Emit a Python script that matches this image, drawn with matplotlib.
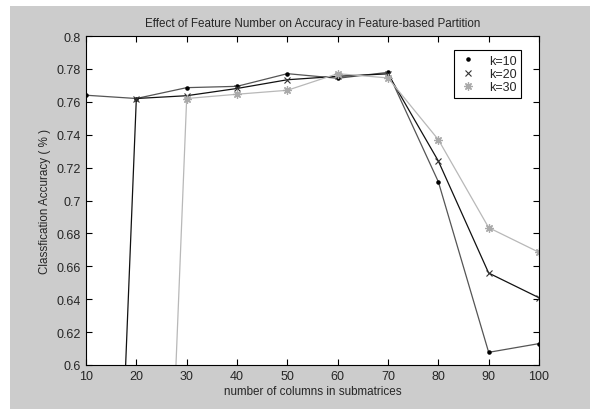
import matplotlib
matplotlib.use("Agg")
import matplotlib.pyplot as plt
from matplotlib.patches import Rectangle

x = [10, 20, 30, 40, 50, 60, 70, 80, 90, 100]
k10 = [0.764, 0.762, 0.7686, 0.7694, 0.7771, 0.7743, 0.7779, 0.7114, 0.6077, 0.6130]
k20 = [0.0, 0.762, 0.7637, 0.7681, 0.7734, 0.7755, 0.7770, 0.7240, 0.6559, 0.6409]
k30 = [0.0, 0.0, 0.762, 0.7646, 0.7670, 0.7771, 0.7745, 0.7370, 0.6835, 0.6685]
labels = ["k=10", "k=20", "k=30"]
xticks = [10, 20, 30, 40, 50, 60, 70, 80, 90, 100]
yticks = [0.6, 0.62, 0.64, 0.66, 0.68, 0.7, 0.72, 0.74, 0.76, 0.78, 0.8]
ytick_labels = ["0.6", "0.62", "0.64", "0.66", "0.68", "0.7", "0.72", "0.74", "0.76", "0.78", "0.8"]

plt.rcParams['font.family'] = ['Liberation Sans', 'DejaVu Sans']
plt.rcParams['font.size'] = 8

txt = '#262626'
fig = plt.figure(figsize=(5.9, 4.1), dpi=100)
fig.patch.set_facecolor('white')
fig.patches.append(Rectangle((10 / 590, 0), 580 / 590, 403 / 410, transform=fig.transFigure,
                             facecolor='#cccccc', edgecolor='none', zorder=-10))

ax = fig.add_axes([86 / 590, 1 - 366 / 410, (539 - 86) / 590, (366 - 37) / 410])
ax.set_facecolor('white')

ax.plot(x, k10, color='#555555', lw=0.9, marker='.', ms=4.5, mfc='black', mec='black', label=labels[0])
ax.plot(x, k20, color='#111111', lw=0.9, marker='x', ms=4, mfc='#333333', mec='#333333', mew=0.8, label=labels[1])
ax.plot(x, k30, color='#b8b8b8', lw=0.9, marker=(8, 2, 0), ms=6, mfc='#aaaaaa', mec='#aaaaaa', mew=0.9, label=labels[2])

ax.set_xlim(10, 100)
ax.set_ylim(0.6, 0.8)
ax.set_xticks(xticks)
ax.set_yticks(yticks)
ax.set_yticklabels(ytick_labels)
ax.tick_params(direction='in', top=True, right=True, length=4, width=0.8, labelsize=9,
               colors='black', labelcolor=txt)
for s in ax.spines.values():
    s.set_linewidth(0.8)

ax.set_title("Effect of Feature Number on Accuracy in Feature-based Partition", fontsize=8.4, pad=7, color=txt)
ax.set_xlabel("number of columns in submatrices", fontsize=8.4, labelpad=2, color=txt)
ax.set_ylabel("Classfication Accuracy ( % )", fontsize=8.4, labelpad=4, color=txt)

leg = ax.legend(loc='upper right', frameon=True, fancybox=False, edgecolor='black',
                fontsize=9, handlelength=1.6, handletextpad=0.9, borderpad=0.35, labelspacing=0.1,
                bbox_to_anchor=(0.975, 0.975), framealpha=1)
leg.get_frame().set_linewidth(0.8)
for h in leg.get_lines():
    h.set_linestyle('none')
for t in leg.get_texts():
    t.set_color(txt)

fig.savefig("out.png", dpi=100, facecolor=fig.get_facecolor())
